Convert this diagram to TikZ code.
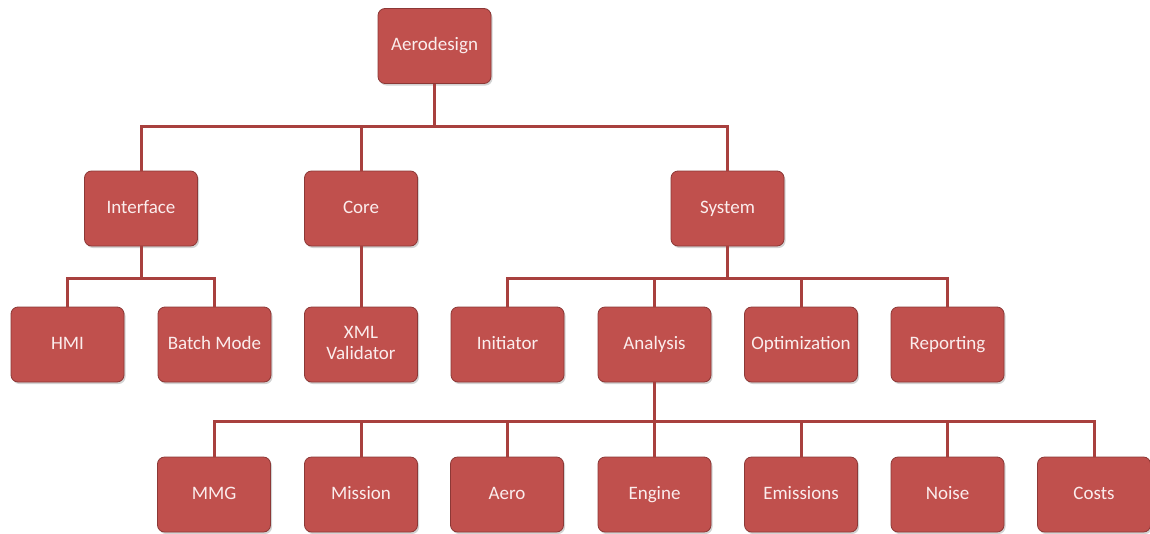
\documentclass[tikz,border=0pt]{standalone}
\usepackage{fontspec}
\setmainfont{Carlito}
\usetikzlibrary{shadows}
\definecolor{boxfill}{HTML}{C0504D}
\definecolor{boxline}{HTML}{8C3836}
\definecolor{linkcol}{HTML}{A8403E}
\definecolor{txtcol}{HTML}{FBEDED}
\tikzset{
  unit/.style={draw=boxline, line width=0.8pt, fill=boxfill, rounded corners=7pt,
    minimum width=113pt, minimum height=75pt, inner sep=2pt, align=center,
    text=txtcol, font=\fontsize{19}{21}\selectfont, text height=13pt, text depth=4pt,
    drop shadow={shadow xshift=1.5pt, shadow yshift=-2pt, opacity=0.35}},
  link/.style={draw=linkcol, line width=3pt}
}
\begin{document}
\begin{tikzpicture}[x=1pt,y=-1pt]
\useasboundingbox (0,0) rectangle (1150,533);
% level 0
\node[unit] (aero) at (434.5,46) {Aerodesign};
% level 1
\node[unit] (iface) at (141,208.5) {Interface};
\node[unit] (core) at (361,208.5) {Core};
\node[unit] (sys) at (727.5,208.5) {System};
% level 2
\node[unit] (hmi) at (67.5,344.5) {HMI};
\node[unit] (batch) at (214.5,344.5) {Batch Mode};
\node[unit, text height=34pt] (xml) at (361,344.5) {XML\\Validator};
\node[unit] (init) at (507.5,344.5) {Initiator};
\node[unit] (anal) at (654.5,344.5) {Analysis};
\node[unit] (opt) at (801,344.5) {Optimization};
\node[unit] (rep) at (947.5,344.5) {Reporting};
% level 3
\node[unit] (mmg) at (214,494.5) {MMG};
\node[unit] (miss) at (361,494.5) {Mission};
\node[unit] (aer) at (507,494.5) {Aero};
\node[unit] (eng) at (654.5,494.5) {Engine};
\node[unit] (emi) at (801,494.5) {Emissions};
\node[unit] (noi) at (947.5,494.5) {Noise};
\node[unit] (cost) at (1094,494.5) {Costs};
% bus coordinates
\coordinate (b0) at (434.5,126);
\coordinate (b1) at (141,278);
\coordinate (b2) at (727.5,278);
\coordinate (b3) at (654.5,421);
% connectors
\draw[link] (aero.south) -- (b0);
\foreach \n in {iface,core,sys} \draw[link] (b0) -| (\n.north);
\draw[link] (iface.south) -- (b1);
\foreach \n in {hmi,batch} \draw[link] (b1) -| (\n.north);
\draw[link] (core.south) -- (xml.north);
\draw[link] (sys.south) -- (b2);
\foreach \n in {init,anal,opt,rep} \draw[link] (b2) -| (\n.north);
\draw[link] (anal.south) -- (b3);
\foreach \n in {mmg,miss,aer,eng,emi,noi,cost} \draw[link] (b3) -| (\n.north);
\end{tikzpicture}
\end{document}
